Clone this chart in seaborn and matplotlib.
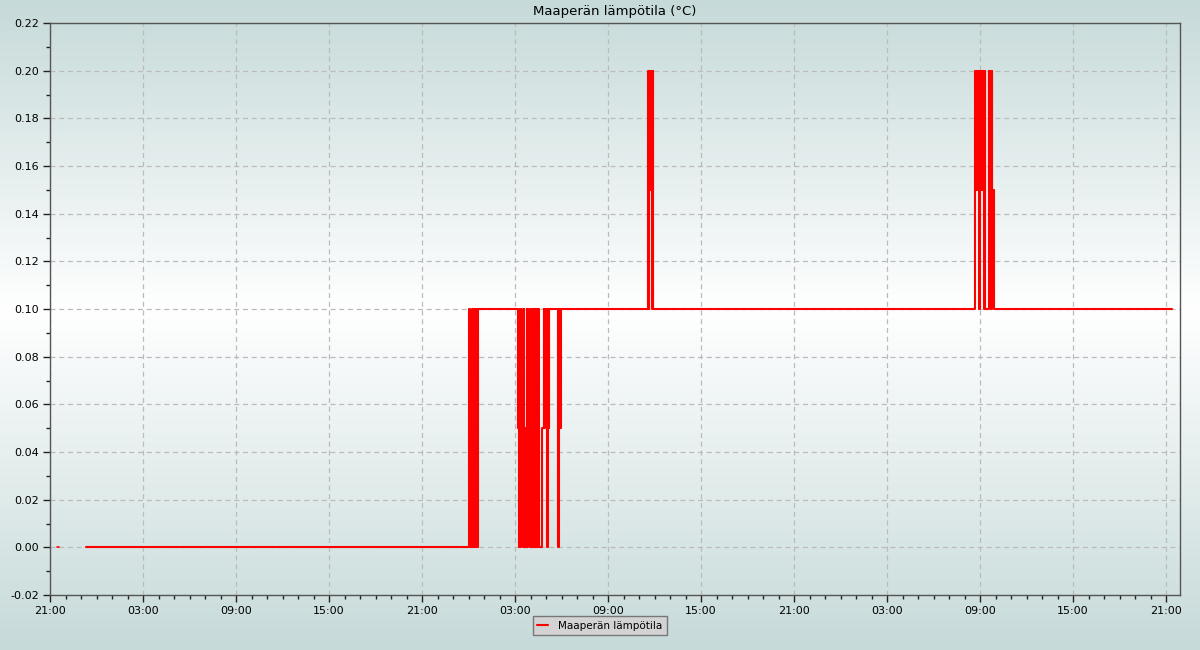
import numpy as np
import pandas as pd
import matplotlib
matplotlib.use('Agg')
import matplotlib.pyplot as plt
import matplotlib.dates as mdates
from matplotlib.colors import LinearSegmentedColormap
from matplotlib.ticker import MultipleLocator, FormatStrFormatter
import seaborn as sns

# Hours counted from the first 21:00 on the x axis
stray_hours = [0.43, 0.58]
stray_values = [0.0, 0.0]

start_hours = [2.32, 26.95]
start_values = [0.0, 0.0]

burst1_hours = [27.00, 27.03, 27.08, 27.10, 27.17, 27.22, 27.27, 27.32, 27.37,
                27.42, 27.47, 27.52, 27.57, 27.62, 27.67]
burst1_values = [0.05, 0.1, 0.1, 0.0, 0.0, 0.1, 0.0, 0.1, 0.0,
                 0.1, 0.0, 0.1, 0.0, 0.1, 0.1]

burst2_hours = [30.15, 30.20, 30.25, 30.30, 30.35, 30.40, 30.45, 30.50, 30.55,
                30.60, 30.65, 30.70, 30.75, 30.80, 30.85, 30.90, 30.95, 31.00,
                31.05, 31.10, 31.15, 31.20, 31.25, 31.30, 31.35, 31.40, 31.45,
                31.50, 31.55, 31.72, 31.76, 31.85, 31.90, 31.95, 32.03, 32.06,
                32.11, 32.16, 32.21, 32.26, 32.75, 32.78, 32.84, 32.90, 32.95]
burst2_values = [0.1, 0.05, 0.0, 0.1, 0.0, 0.1, 0.05, 0.0, 0.1,
                 0.0, 0.05, 0.0, 0.1, 0.0, 0.1, 0.05, 0.0, 0.1,
                 0.0, 0.1, 0.0, 0.05, 0.1, 0.0, 0.1, 0.05, 0.0,
                 0.1, 0.0, 0.0, 0.05, 0.1, 0.05, 0.1, 0.1, 0.0,
                 0.1, 0.05, 0.1, 0.1, 0.1, 0.0, 0.1, 0.05, 0.1]

spike1_hours = [38.56, 38.60, 38.63, 38.66, 38.70, 38.76, 38.80, 38.84, 38.87, 38.90]
spike1_values = [0.1, 0.2, 0.1, 0.2, 0.15, 0.15, 0.2, 0.1, 0.2, 0.1]

spike2_hours = [59.65, 59.70, 59.75, 59.80, 59.85, 59.90, 59.95, 60.00, 60.05,
                60.10, 60.15, 60.20, 60.25, 60.30, 60.35, 60.50, 60.55, 60.60,
                60.65, 60.70, 60.75, 60.80, 60.85, 60.88]
spike2_values = [0.1, 0.2, 0.15, 0.2, 0.15, 0.2, 0.1, 0.2, 0.15,
                 0.2, 0.15, 0.2, 0.1, 0.2, 0.1, 0.1, 0.2, 0.15,
                 0.2, 0.1, 0.2, 0.15, 0.15, 0.1]

end_hours = [72.39]
end_values = [0.1]

series_label = 'Maaperän lämpötila'
chart_title = 'Maaperän lämpötila (°C)'

base = pd.Timestamp('2024-05-01 21:00')
hours = start_hours + burst1_hours + burst2_hours + spike1_hours + spike2_hours + end_hours
values = start_values + burst1_values + burst2_values + spike1_values + spike2_values + end_values
df = pd.DataFrame({'time': base + pd.to_timedelta(hours, unit='h'), 'value': values})
stray = pd.DataFrame({'time': base + pd.to_timedelta(stray_hours, unit='h'), 'value': stray_values})

sns.set_theme(style='ticks')
plt.rcParams['font.family'] = ['DejaVu Sans']
plt.rcParams['text.color'] = 'black'

fig = plt.figure(figsize=(12, 6.5), dpi=100)

# background gradient: blue-grey at the edges, white around the middle of the plot
bg = fig.add_axes([0, 0, 1, 1], zorder=-1)
cmap = LinearSegmentedColormap.from_list('bg', ['#c6dad9', '#ffffff', '#c6dad9'])
rows = np.arange(650)
pos = np.where(rows < 310, 0.5 * rows / 310, 0.5 + 0.5 * (rows - 310) / 340)
bg.imshow(pos[:, None], aspect='auto', cmap=cmap, vmin=0, vmax=1, extent=[0, 1, 0, 1])
bg.axis('off')

ax = fig.add_axes([50 / 1200, 55 / 650, 1130 / 1200, 572 / 650])
ax.patch.set_alpha(0)

sns.lineplot(data=df, x='time', y='value', color='red', linewidth=1.5,
             drawstyle='steps-post', label=series_label, ax=ax, zorder=3)
sns.lineplot(data=stray, x='time', y='value', color='red', linewidth=1.2,
             legend=False, ax=ax, zorder=3)

ax.set_xlim(base, base + pd.Timedelta(hours=72.9))
ax.set_ylim(-0.02, 0.22)
ax.xaxis.set_major_locator(mdates.HourLocator(byhour=[3, 9, 15, 21]))
ax.xaxis.set_minor_locator(mdates.HourLocator())
ax.xaxis.set_major_formatter(mdates.DateFormatter('%H:%M'))
ax.yaxis.set_major_locator(MultipleLocator(0.02))
ax.yaxis.set_minor_locator(MultipleLocator(0.01))
ax.yaxis.set_major_formatter(FormatStrFormatter('%.2f'))

ax.grid(True, which='major', color='#bbbbbb', linestyle='--', linewidth=0.9, dashes=(4, 3))
ax.tick_params(which='major', length=5, width=1, labelsize=8, color='#222222',
               labelcolor='black', pad=3)
ax.tick_params(which='minor', length=3, width=1, color='#222222')
for s in ax.spines.values():
    s.set_visible(True)
    s.set_color('#555555')
    s.set_linewidth(1)

ax.set_xlabel('')
ax.set_ylabel('')
ax.set_title(chart_title, fontsize=9.5, pad=6, color='black')

leg = ax.legend(loc='upper center', bbox_to_anchor=(0.5, 1 - 616 / 650),
                bbox_transform=fig.transFigure, fontsize=7.5,
                frameon=True, fancybox=False, handlelength=1.0, borderpad=0.45,
                handletextpad=1.0, borderaxespad=0)
leg.get_frame().set_facecolor('#d3d3d3')
leg.get_frame().set_edgecolor('#777777')
leg.get_frame().set_alpha(1)

fig.savefig('out.png', dpi=100)
plt.close(fig)
